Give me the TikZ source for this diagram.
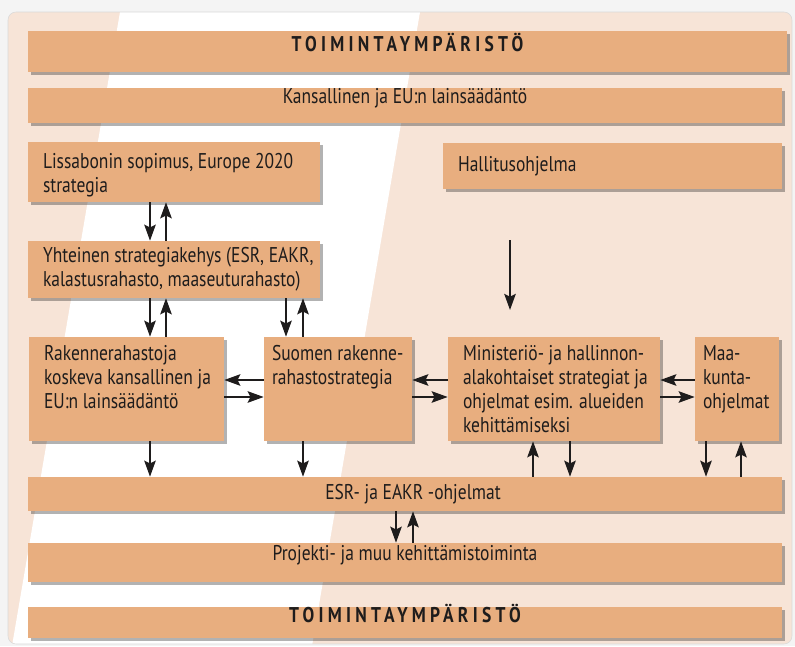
\documentclass[tikz,border=0pt]{standalone}
\usepackage{fontspec}
\setmainfont{PT Sans}[FakeStretch=0.82]
\newfontfamily\spacedfont{PT Sans}[FakeStretch=0.82,LetterSpace=20]
\usetikzlibrary{arrows.meta,fit,shadows}
\definecolor{boxfill}{RGB}{232,174,127}
\definecolor{backfill}{RGB}{247,228,215}
\definecolor{outfill}{RGB}{244,244,244}
\definecolor{inkc}{RGB}{30,28,28}
\tikzset{
  box/.style={fill=boxfill, inner sep=0pt, text=inkc,
    drop shadow={shadow xshift=2pt, shadow yshift=-2pt, opacity=.3, fill=black}},
  txt/.style={anchor=north west, align=left, inner xsep=11.25pt, inner ysep=6.5pt, text=inkc},
  sidetxt/.style={anchor=west, align=left, inner xsep=11.25pt, inner ysep=0pt, text=inkc},
  title/.style={font=\spacedfont\bfseries\fontsize{16}{18}\selectfont},
  arr/.style={draw=inkc, line width=1.8pt, -{Stealth[length=12pt,width=8.5pt,inset=2pt]}}
}
\begin{document}
\begin{tikzpicture}[x=0.75pt, y=-0.75pt, font=\fontsize{16}{18}\selectfont]
\useasboundingbox (0,0) rectangle (795,646);
% background and frame
\fill[outfill] (0,0) rectangle (795,646);
\begin{scope}
  \clip[rounded corners=6pt] (8,12) rectangle (792,644);
  \fill[backfill] (8,12) rectangle (792,644);
  \fill[white] (120,12) -- (420,12) -- (312,646) -- (12,646) -- cycle;
\end{scope}
\draw[black!15, rounded corners=6pt] (8,12) rectangle (792,644);

% boxes
\node[box, title, fit={(28,31) (787,72)}] (topenv) {TOIMINTAYMPÄRISTÖ};
\node[box, fit={(28,88) (782,123)}] (law) {Kansallinen ja EU:n lainsäädäntö};
\node[box, fit={(28,142) (320,202)},
  label={[txt, inner ysep=8.5pt]north west:{Lissabonin sopimus, Europe 2020\\strategia}}] (liss) {};
\node[box, fit={(443,143) (782,189)},
  label={[sidetxt]west:Hallitusohjelma}] (hall) {};
\node[box, fit={(28,241) (320,298)},
  label={[txt, inner ysep=5pt]north west:{Yhteinen strategiakehys (ESR, EAKR,\\kalastusrahasto, maaseuturahasto)}}] (yht) {};
\node[box, fit={(29,337) (224,441)},
  label={[txt]north west:{Rakennerahastoja\\koskeva kansallinen ja\\EU:n lainsäädäntö}}] (rak) {};
\node[box, fit={(264,337) (412,441)},
  label={[txt, inner xsep=6pt]north west:{Suomen rakenne-\\rahastostrategia}}] (suo) {};
\node[box, fit={(448,337) (660,441)},
  label={[txt]north west:{Ministeriö- ja hallinnon-\\alakohtaiset strategiat ja\\ohjelmat esim. alueiden\\kehittämiseksi}}] (min) {};
\node[box, fit={(695,337) (779,441)},
  label={[txt, inner xsep=6pt]north west:{Maa-\\kunta-\\ohjelmat}}] (maa) {};
\node[box, fit={(28,477) (782,511)},
  label={[text=inkc, xshift=6pt]center:{ESR- ja EAKR -ohjelmat}}] (esr) {};
\node[box, fit={(28,543) (782,582)}] (proj) {Projekti- ja muu kehittämistoiminta};
\node[box, title, fit={(28,607) (782,638)}] (botenv) {TOIMINTAYMPÄRISTÖ};

% arrow columns and rows
\coordinate (ca) at (150,0);
\coordinate (cb) at (166,0);
\coordinate (cc) at (286,0);
\coordinate (cd) at (303,0);
\coordinate (ce) at (533,0);
\coordinate (cf) at (570,0);
\coordinate (cg) at (706,0);
\coordinate (ch) at (741,0);
\coordinate (ci) at (396,0);
\coordinate (cj) at (413,0);
\coordinate (ra) at (0,380);
\coordinate (rb) at (0,397);
\coordinate (hallgap) at (510,240);
\coordinate (mingap) at (510,310);

% arrows
\draw[arr] (liss.south -| ca) -- (yht.north -| ca);
\draw[arr] (yht.north -| cb) -- (liss.south -| cb);
\draw[arr] (yht.south -| ca) -- (rak.north -| ca);
\draw[arr] (rak.north -| cb) -- (yht.south -| cb);
\draw[arr] (yht.south -| cc) -- (suo.north -| cc);
\draw[arr] (suo.north -| cd) -- (yht.south -| cd);
\draw[arr] (hallgap) -- (mingap);
\draw[arr] (suo.west |- ra) -- (rak.east |- ra);
\draw[arr] (rak.east |- rb) -- (suo.west |- rb);
\draw[arr] (min.west |- ra) -- (suo.east |- ra);
\draw[arr] (suo.east |- rb) -- (min.west |- rb);
\draw[arr] (maa.west |- ra) -- (min.east |- ra);
\draw[arr] (min.east |- rb) -- (maa.west |- rb);
\draw[arr] (rak.south -| ca) -- (esr.north -| ca);
\draw[arr] (suo.south -| cd) -- (esr.north -| cd);
\draw[arr] (esr.north -| ce) -- (min.south -| ce);
\draw[arr] (min.south -| cf) -- (esr.north -| cf);
\draw[arr] (maa.south -| cg) -- (esr.north -| cg);
\draw[arr] (esr.north -| ch) -- (maa.south -| ch);
\draw[arr] (esr.south -| ci) -- (proj.north -| ci);
\draw[arr] (proj.north -| cj) -- (esr.south -| cj);
\end{tikzpicture}
\end{document}
